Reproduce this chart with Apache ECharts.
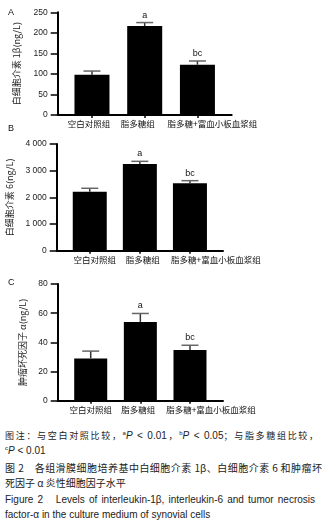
<!DOCTYPE html>
<html><head><meta charset="utf-8">
<script src="https://cdn.jsdelivr.net/npm/echarts@6/dist/echarts.min.js"></script>
<style>
html,body{margin:0;padding:0;background:#fff;width:327px;height:524px;overflow:hidden}
#chart{position:absolute;left:0;top:0;width:327px;height:424px}
.cap{position:absolute;left:5px;width:313px;color:#222;line-height:15px;font-family:"Noto Sans CJK SC","Liberation Sans",sans-serif;text-align:justify;text-align-last:justify}
.cap.l{text-align:left;text-align-last:left}
.cap sup{font-size:6px;line-height:0;vertical-align:4px;font-family:"Liberation Sans"}
.cap i,.lat{font-family:"Liberation Sans";font-size:10px}
.en{font-family:"Liberation Sans",Arial,sans-serif}
</style></head><body>
<div id="chart"></div>
<div class="cap" style="top:427.5px;font-size:9px">图注：与空白对照比较，<sup>a</sup><i>P</i><span class="lat"> &lt; 0.01</span>，<sup>b</sup><i>P</i><span class="lat"> &lt; 0.05</span>；与脂多糖组比较，</div>
<div class="cap l" style="top:442.5px;font-size:9px"><sup>c</sup><i>P</i><span class="lat"> &lt; 0.01</span></div>
<div class="cap" style="top:459.5px;font-size:10px;width:317px">图 2　各组滑膜细胞培养基中白细胞介素 1β、白细胞介素 6 和肿瘤坏</div>
<div class="cap l" style="top:474.5px;font-size:10px">死因子 α 炎性细胞因子水平</div>
<div class="cap en" style="top:491.5px;font-size:10px;width:310px">Figure 2　Levels of interleukin-1β, interleukin-6 and tumor necrosis</div>
<div class="cap en l" style="top:506.5px;font-size:10px">factor-α in the culture medium of synovial cells</div>
<script>
// ---- data ----
const categories = ['空白对照组', '脂多糖组', '脂多糖+富血小板血浆组'];
const il1bMean = [98, 216.5, 122.5];
const il1bSD = [9, 8.5, 9];
const il6Mean = [2210, 3250, 2525];
const il6SD = [130, 100, 100];
const tnfMean = [29, 54, 34.7];
const tnfSD = [5, 5.8, 3.3];
const sigLabels = ['', 'a', 'bc'];
const il1bTicks = [0, 50, 100, 150, 200, 250];
const il6Ticks = [0, 1000, 2000, 3000, 4000];
const tnfTicks = [0, 20, 40, 60, 80];
const yNames = ['白细胞介素 1β(ng/L)', '白细胞介素 6(ng/L)', '肿瘤坏死因子 α(ng/L)'];
const panelLetters = ['A', 'B', 'C'];

const panels = [
  {grid: {left: 57.7, top: 12.3, width: 174, height: 102.7}, xr: 0.65, barW: 35, mean: il1bMean, sd: il1bSD, ticks: il1bTicks, nameGap: 37, shifts: [-3, -7, 15], letterTop: 8.5},
  {grid: {left: 56.7, top: 144, width: 166.3, height: 106.7}, xr: 0.66, barW: 34, mean: il6Mean, sd: il6SD, ticks: il6Ticks, nameGap: 36, shifts: [5, 3, 26], letterTop: 124.5},
  {grid: {left: 57.7, top: 284, width: 165.3, height: 116.7}, xr: 0.665, barW: 33, mean: tnfMean, sd: tnfSD, ticks: tnfTicks, nameGap: 30, shifts: [0, -2, 21], letterTop: 278.5}
];

const fmtTick = v => v >= 1000 ? (Math.floor(v / 1000) + ' ' + String(v % 1000).padStart(3, '0')) : String(v);

const grids = [], xAxes = [], yAxes = [], series = [], graphics = [];
panels.forEach((p, k) => {
  grids.push(Object.assign({containLabel: false, outerBoundsMode: 'none'}, p.grid));
  const rich = {};
  p.shifts.forEach((s, i) => {
    rich['c' + i] = {
      fontSize: 8.5, fontFamily: '"Noto Sans CJK SC"', color: '#111',
      padding: s >= 0 ? [0, 0, 0, 2 * s] : [0, -2 * s, 0, 0]
    };
  });
  xAxes.push({
    type: 'value', gridIndex: k, min: -p.xr, max: categories.length - 1 + p.xr,
    splitLine: {show: false},
    axisLine: {show: true, onZero: false, lineStyle: {color: '#000', width: 2}},
    axisTick: {show: true, length: 3, customValues: categories.map((c, i) => i), lineStyle: {color: '#000', width: 1.5}},
    axisLabel: {
      show: true, margin: 5, customValues: categories.map((c, i) => i),
      formatter: v => { const i = Math.round(v); return '{c' + i + '|' + categories[i] + '}'; },
      rich: rich
    }
  });
  const t = p.ticks;
  yAxes.push({
    type: 'value', gridIndex: k, min: t[0], max: t[t.length - 1], interval: t[1] - t[0],
    name: yNames[k], nameLocation: 'middle', nameRotate: 90, nameGap: p.nameGap,
    nameTextStyle: {fontSize: 9, fontFamily: '"Noto Sans CJK SC"', color: '#222'},
    splitLine: {show: false},
    axisLine: {show: true, onZero: false, lineStyle: {color: '#000', width: 2}},
    axisTick: {show: true, length: 7, lineStyle: {color: '#000', width: 1.5}},
    axisLabel: {margin: 10, fontSize: 8.5, fontFamily: '"Liberation Sans"', color: '#1a1a1a', formatter: fmtTick}
  });
  series.push({
    type: 'bar', xAxisIndex: k, yAxisIndex: k, barWidth: p.barW,
    itemStyle: {color: '#000'},
    data: p.mean.map((m, i) => [i, m])
  });
  series.push({
    type: 'custom', xAxisIndex: k, yAxisIndex: k, clip: false, z: 5,
    data: p.mean.map((m, i) => [i, m, m + p.sd[i]]),
    renderItem: (params, api) => {
      const x = api.value(0);
      const p0 = api.coord([x, api.value(1)]);
      const p1 = api.coord([x, api.value(2)]);
      const half = 8.5;
      return {type: 'group', children: [
        {type: 'line', shape: {x1: p0[0], y1: p0[1], x2: p1[0], y2: p1[1]}, style: {stroke: '#333', lineWidth: 1.5}},
        {type: 'line', shape: {x1: p1[0] - half, y1: p1[1], x2: p1[0] + half, y2: p1[1]}, style: {stroke: '#666', lineWidth: 1.5}},
        {type: 'text', style: {text: sigLabels[params.dataIndex], x: p1[0], y: p1[1] - 3, align: 'center', verticalAlign: 'bottom', fontSize: 9, fontFamily: '"Liberation Sans"', fill: '#111'}}
      ]};
    }
  });
  graphics.push({type: 'text', left: 8, top: p.letterTop, style: {text: panelLetters[k], fontSize: 9, fontFamily: '"Liberation Sans"', fill: '#111'}});
});

const chart = echarts.init(document.getElementById('chart'), null, {renderer: 'canvas'});
chart.setOption({
  animation: false,
  backgroundColor: '#fff',
  grid: grids, xAxis: xAxes, yAxis: yAxes, series: series, graphic: graphics
});
</script>
</body></html>
